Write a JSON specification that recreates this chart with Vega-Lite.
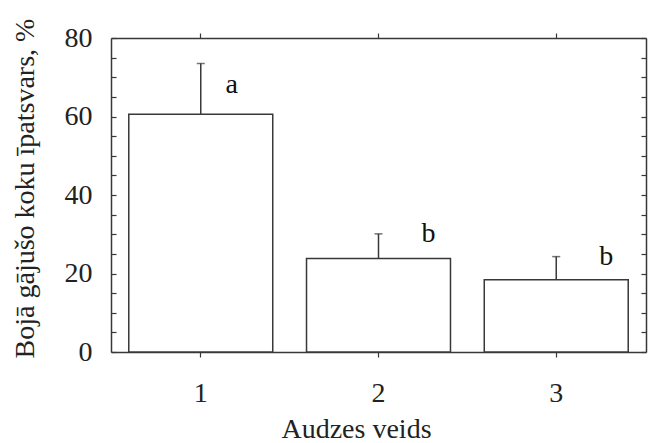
{
  "$schema": "https://vega.github.io/schema/vega-lite/v6.json",
  "width": 535,
  "height": 314,
  "autosize": "none",
  "padding": {"left": 111, "top": 38, "right": 2, "bottom": 91},
  "background": "white",
  "config": {
    "view": {"stroke": null},
    "font": "Liberation Serif",
    "axis": {
      "domainColor": "#383838",
      "domainWidth": 1.5,
      "tickColor": "#383838",
      "tickWidth": 1.2,
      "grid": false,
      "labelFont": "Liberation Serif",
      "labelFontSize": 28,
      "labelColor": "#222222",
      "titleFont": "Liberation Serif",
      "titleFontSize": 28,
      "titleFontWeight": "normal",
      "titleColor": "#222222"
    }
  },
  "data": {
    "values": [
      {"veids": "1", "value": 60.6, "err": 73.5, "letter": "a"},
      {"veids": "2", "value": 23.8, "err": 30.1, "letter": "b"},
      {"veids": "3", "value": 18.4, "err": 24.3, "letter": "b"}
    ]
  },
  "encoding": {
    "x": {
      "field": "veids",
      "type": "nominal",
      "sort": null,
      "scale": {"paddingInner": 0.19, "paddingOuter": 0.1}
    }
  },
  "layer": [
    {
      "mark": {"type": "bar", "fillOpacity": 0, "strokeOpacity": 0},
      "encoding": {
        "x": {
          "field": "veids",
          "type": "nominal",
          "sort": null,
          "axis": {"orient": "top", "labels": false, "title": null, "tickSize": 5}
        },
        "y": {
          "field": "value",
          "type": "quantitative",
          "scale": {"domain": [0, 80], "nice": false},
          "axis": {
            "orient": "right",
            "labels": false,
            "title": null,
            "tickSize": -5,
            "values": [0, 5, 10, 15, 20, 25, 30, 35, 40, 45, 50, 55, 60, 65, 70, 75, 80]
          }
        }
      }
    },
    {
      "mark": {"type": "bar", "fill": "white", "stroke": "#383838", "strokeWidth": 1.5},
      "encoding": {
        "x": {
          "field": "veids",
          "type": "nominal",
          "sort": null,
          "axis": {
            "orient": "bottom",
            "labelAngle": 0,
            "tickSize": 5,
            "labelPadding": 22,
            "title": "Audzes veids",
            "titleX": 245,
            "titleY": 85,
            "titleBaseline": "alphabetic"
          }
        },
        "y": {
          "field": "value",
          "type": "quantitative",
          "scale": {"domain": [0, 80], "nice": false},
          "axis": {
            "orient": "left",
            "tickSize": -5,
            "labelPadding": 24,
            "values": [0, 5, 10, 15, 20, 25, 30, 35, 40, 45, 50, 55, 60, 65, 70, 75, 80],
            "labelExpr": "datum.value % 20 === 0 ? datum.label : ''",
            "title": "Bojā gājušo koku īpatsvars, %",
            "titleAngle": -90,
            "titleX": -100,
            "titleY": 150,
            "titleAlign": "center",
            "titleBaseline": "top"
          }
        }
      }
    },
    {
      "mark": {"type": "rule", "stroke": "#383838", "strokeWidth": 1.5},
      "encoding": {
        "x": {"field": "veids", "type": "nominal", "sort": null, "axis": null},
        "y": {"field": "value", "type": "quantitative", "axis": null},
        "y2": {"field": "err"}
      }
    },
    {
      "mark": {"type": "tick", "color": "#383838", "size": 8, "thickness": 1.5, "orient": "horizontal"},
      "encoding": {
        "x": {"field": "veids", "type": "nominal", "sort": null, "axis": null},
        "y": {"field": "err", "type": "quantitative", "axis": null}
      }
    },
    {
      "transform": [{"filter": "datum.letter === 'a'"}],
      "mark": {"type": "text", "fontSize": 28, "font": "Liberation Serif", "color": "#111111", "dx": 31, "dy": 21, "baseline": "middle"},
      "encoding": {
        "x": {"field": "veids", "type": "nominal", "sort": null, "axis": null},
        "y": {"field": "err", "type": "quantitative", "axis": null},
        "text": {"field": "letter"}
      }
    },
    {
      "transform": [{"filter": "datum.letter === 'b'"}],
      "mark": {"type": "text", "fontSize": 28, "font": "Liberation Serif", "color": "#111111", "dx": 50, "dy": 0, "baseline": "middle"},
      "encoding": {
        "x": {"field": "veids", "type": "nominal", "sort": null, "axis": null},
        "y": {"field": "err", "type": "quantitative", "axis": null},
        "text": {"field": "letter"}
      }
    }
  ],
  "resolve": {"axis": {"x": "independent", "y": "independent"}}
}
